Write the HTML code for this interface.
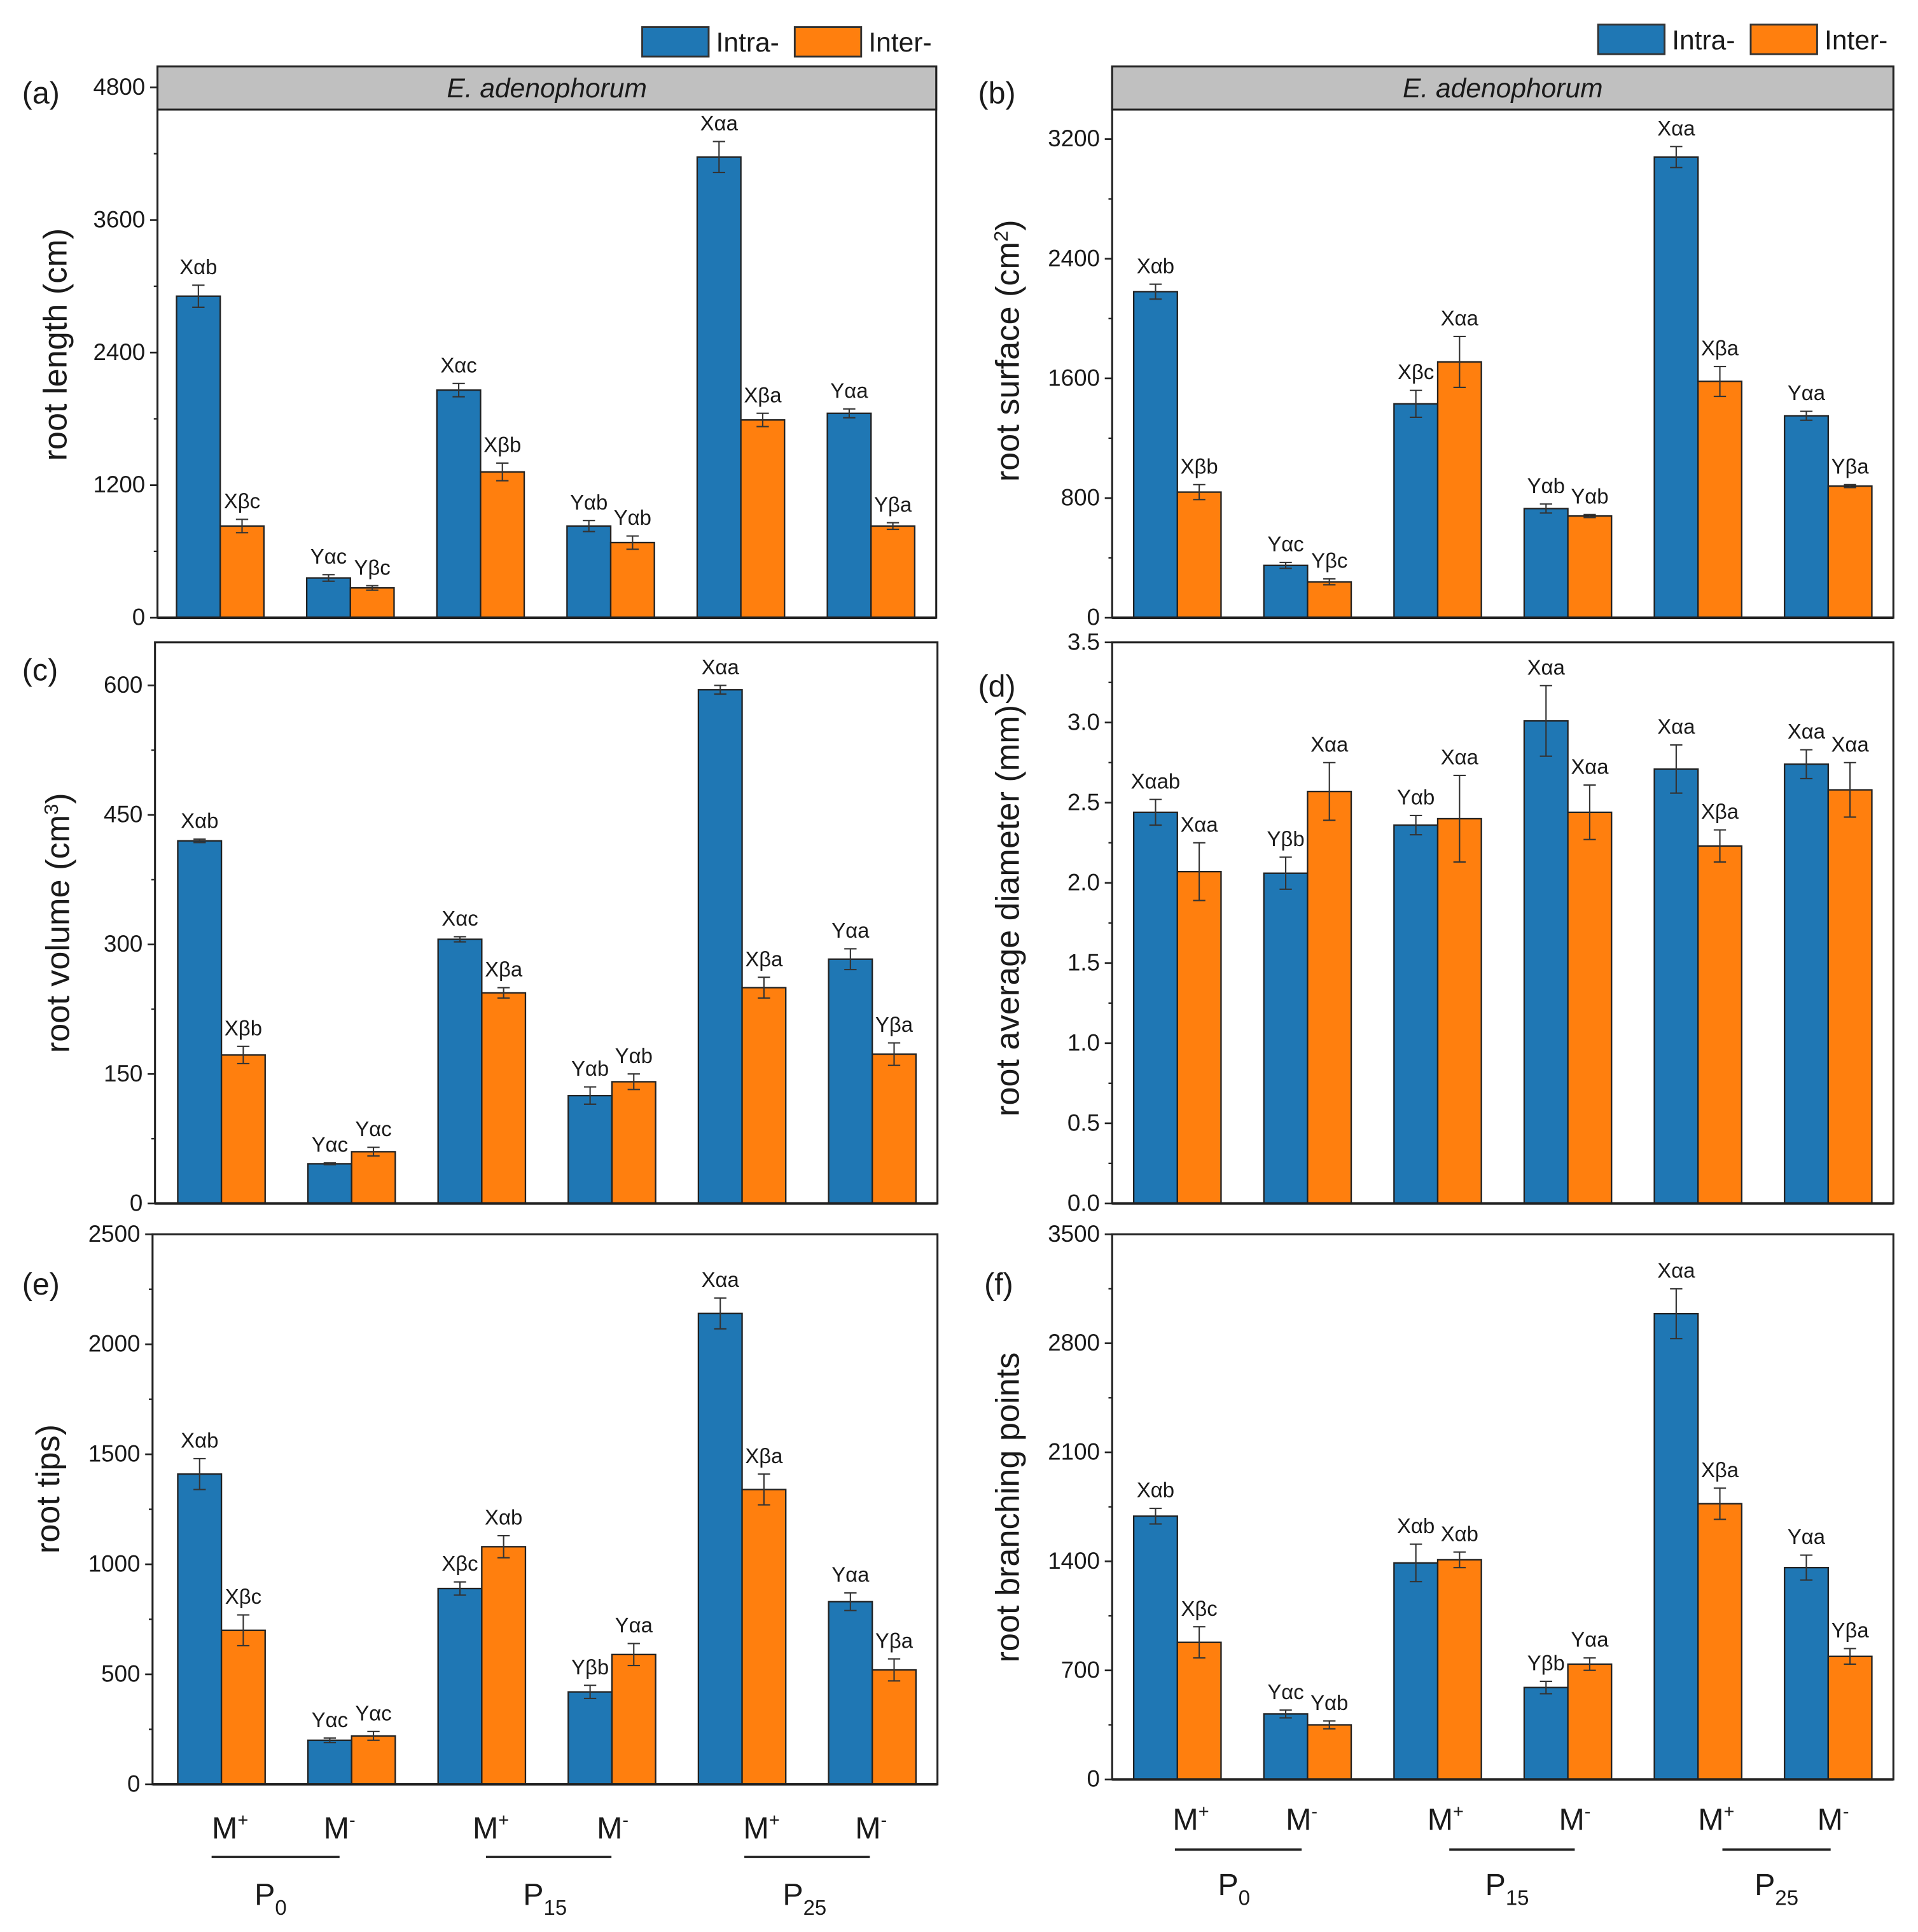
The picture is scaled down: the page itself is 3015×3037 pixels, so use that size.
<!DOCTYPE html>
<html><head><meta charset="utf-8"><style>
html,body{margin:0;padding:0;background:#fff;}
svg{display:block;}
text{font-family:"Liberation Sans",Arial,sans-serif;fill:#1a1a1a;}
</style></head><body>
<svg id="fig" width="3015" height="3037" viewBox="0 0 1559 1570" preserveAspectRatio="none" xmlns="http://www.w3.org/2000/svg"></svg>
<script>
// ---- data ----
const groups = ["P0 M+","P0 M-","P15 M+","P15 M-","P25 M+","P25 M-"];
const aIntra = [2910, 360, 2060, 830, 4170, 1850];
const aInter = [830, 270, 1320, 680, 1790, 830];
const aIntraErr = [100, 30, 60, 50, 140, 40];
const aInterErr = [60, 20, 80, 60, 60, 30];
const aLabels = ["Xαb","Xβc","Yαc","Yβc","Xαc","Xβb","Yαb","Yαb","Xαa","Xβa","Yαa","Yβa"];
const aTicks = [0,1200,2400,3600,4800];

const bIntra = [2180, 350, 1430, 730, 3080, 1350];
const bInter = [840, 240, 1710, 680, 1580, 880];
const bIntraErr = [50, 20, 90, 30, 70, 30];
const bInterErr = [50, 20, 170, 10, 100, 10];
const bLabels = ["Xαb","Xβb","Yαc","Yβc","Xβc","Xαa","Yαb","Yαb","Xαa","Xβa","Yαa","Yβa"];
const bTicks = [0,800,1600,2400,3200];

const cIntra = [420, 46, 306, 125, 595, 283];
const cInter = [172, 60, 244, 141, 250, 173];
const cIntraErr = [2, 1, 3, 10, 5, 12];
const cInterErr = [10, 5, 6, 9, 12, 13];
const cLabels = ["Xαb","Xβb","Yαc","Yαc","Xαc","Xβa","Yαb","Yαb","Xαa","Xβa","Yαa","Yβa"];
const cTicks = [0,150,300,450,600];

const dIntra = [2.44, 2.06, 2.36, 3.01, 2.71, 2.74];
const dInter = [2.07, 2.57, 2.40, 2.44, 2.23, 2.58];
const dIntraErr = [0.08, 0.10, 0.06, 0.22, 0.15, 0.09];
const dInterErr = [0.18, 0.18, 0.27, 0.17, 0.10, 0.17];
const dLabels = ["Xαab","Xαa","Yβb","Xαa","Yαb","Xαa","Xαa","Xαa","Xαa","Xβa","Xαa","Xαa"];
const dTicks = ["0.0","0.5","1.0","1.5","2.0","2.5","3.0","3.5"];

const eIntra = [1410, 200, 890, 420, 2140, 830];
const eInter = [700, 220, 1080, 590, 1340, 520];
const eIntraErr = [70, 10, 30, 30, 70, 40];
const eInterErr = [70, 20, 50, 50, 70, 50];
const eLabels = ["Xαb","Xβc","Yαc","Yαc","Xβc","Xαb","Yβb","Yαa","Xαa","Xβa","Yαa","Yβa"];
const eTicks = [0,500,1000,1500,2000,2500];

const fIntra = [1690, 420, 1390, 590, 2990, 1360];
const fInter = [880, 350, 1410, 740, 1770, 790];
const fIntraErr = [50, 25, 120, 40, 160, 80];
const fInterErr = [100, 25, 50, 40, 100, 50];
const fLabels = ["Xαb","Xβc","Yαc","Yαb","Xαb","Xαb","Yβb","Yαa","Xαa","Xβa","Yαa","Yβa"];
const fTicks = [0,700,1400,2100,2800,3500];

const BLUE="#1f77b4", ORANGE="#ff7f0e";
const svg=document.getElementById('fig');
const NS="http://www.w3.org/2000/svg";
function mk(tag,attrs,parent){const e=document.createElementNS(NS,tag);for(const k in attrs)e.setAttribute(k,attrs[k]);(parent||svg).appendChild(e);return e;}
function txt(s,x,y,size,anchor,parent,extra){const t=mk('text',Object.assign({x:x,y:y,'font-size':size,'text-anchor':anchor||'middle'},extra||{}),parent);t.textContent=s;return t;}

function panel(p){
  const g=mk('g',{});
  
  
  const x0=p.x0,x1=p.x1,yb=p.yb,yt=p.yt;
  const tickVals=p.ticks.map(Number);
  const vmax=tickVals[tickVals.length-1];
  const ysc=v=>yb-(v/vmax)*(yb-p.ymaxPx);
  const fr=mk('rect',{x:x0,y:yt,width:x1-x0,height:yb-yt,fill:'none',stroke:'#222','stroke-width':1.6},g);
  
  
  if(p.strip){
    const st=mk('rect',{x:x0,y:yt,width:x1-x0,height:35,fill:'#c0c0c0',stroke:'#222','stroke-width':1.6},g);
    
    
    const tt=txt('E. adenophorum',(x0+x1)/2,yt+25,22,'middle',g,{'font-style':'italic'});
    
    
  }
  const yax=mk('g',{},g);
  
  
  tickVals.forEach((v,i)=>{
    const y=ysc(v);
    mk('line',{x1:x0-6,x2:x0,y1:y,y2:y,stroke:'#222','stroke-width':1.4},yax);
    const t=txt(String(p.ticks[i]),x0-10,y+6,19,'end',yax);
    
    
    if(i<tickVals.length-1){const ym=ysc((v+tickVals[i+1])/2);mk('line',{x1:x0-3,x2:x0,y1:ym,y2:ym,stroke:'#222','stroke-width':1.2},yax);}
  });
  const at=mk('text',{x:0,y:0,'font-size':27,'text-anchor':'middle',transform:`translate(${p.titleX},${p.titleY}) rotate(-90)`},g);
  at.innerHTML=p.title;
  
  
  const pl=txt('('+p.id+')',p.letterX,p.letterY,25,'start',g);
  
  
  const bw=35.5, step=(p.c5-p.c0)/5;
  p.intra.forEach((v,i)=>{
    const c=p.c0+i*step;
    [[v,p.intraErr[i],BLUE,c-bw,p.labels[2*i],'intra'],[p.inter[i],p.interErr[i],ORANGE,c,p.labels[2*i+1],'inter']].forEach(([val,err,col,bx,lab,nm])=>{
      const y=ysc(val);
      const r=mk('rect',{x:bx,y:y,width:bw,height:yb-y,fill:col,stroke:'#222','stroke-width':1.2},g);
      
      
      const cx=bx+bw/2, ye1=ysc(val+err), ye2=ysc(val-err);
      const eb=mk('path',{d:`M${cx},${ye1}V${ye2}M${cx-5},${ye1}H${cx+5}M${cx-5},${ye2}H${cx+5}`,stroke:'#333','stroke-width':1.1,fill:'none'},g);
      
      
      const lt=txt(lab,cx,ye1-9,17,'middle',g);
      
      
    });
  });
  mk('line',{x1:x0,x2:x1,y1:yb,y2:yb,stroke:'#222','stroke-width':2},g);
  if(p.legend){
    const lg=mk('g',{},g);
    
    
    const L=p.legend;
    mk('rect',{x:L.x,y:L.y,width:54,height:24,fill:BLUE,stroke:'#333','stroke-width':1.5},lg);
    txt('Intra-',L.x+60,L.y+20,22,'start',lg);
    mk('rect',{x:L.x+124,y:L.y,width:54,height:24,fill:ORANGE,stroke:'#333','stroke-width':1.5},lg);
    txt('Inter-',L.x+184,L.y+20,22,'start',lg);
  }
  if(p.xcat){
    const xc=mk('g',{},g);
    
    
    const X=p.xcat;
    X.m.forEach((mx,i)=>{
      const t=mk('text',{x:mx,y:X.my,'font-size':25,'text-anchor':'middle'},xc);
      t.innerHTML='M<tspan dy="-10" font-size="15">'+(i%2?'-':'+')+'</tspan>';
    });
    ['0','15','25'].forEach((s,i)=>{
      mk('line',{x1:X.lines[i][0],x2:X.lines[i][1],y1:X.ly,y2:X.ly,stroke:'#222','stroke-width':2},xc);
      const t=mk('text',{x:X.p[i],y:X.py,'font-size':25,'text-anchor':'middle'},xc);
      t.innerHTML='P<tspan dy="8" font-size="17">'+s+'</tspan>';
    });
  }
}
panel({id:'a',x0:128,x1:761,yt:54,yb:502,ymaxPx:71,ticks:aTicks,strip:true,intra:aIntra,inter:aInter,intraErr:aIntraErr,interErr:aInterErr,labels:aLabels,c0:179,c5:708,title:'root length (cm)',titleX:54,titleY:280,letterX:18,letterY:84,legend:{x:522,y:22}});
panel({id:'b',x0:904,x1:1539,yt:54,yb:502,ymaxPx:113,ticks:bTicks,strip:true,intra:bIntra,inter:bInter,intraErr:bIntraErr,interErr:bInterErr,labels:bLabels,c0:957,c5:1486,title:'root surface (cm<tspan dy="-9" font-size="16">2</tspan><tspan dy="9">)</tspan>',titleX:828,titleY:285,letterX:795,letterY:84,legend:{x:1299,y:20}});
panel({id:'c',x0:126,x1:762,yt:522,yb:978,ymaxPx:557,ticks:cTicks,intra:cIntra,inter:cInter,intraErr:cIntraErr,interErr:cInterErr,labels:cLabels,c0:180,c5:709,title:'root volume (cm<tspan dy="-9" font-size="16">3</tspan><tspan dy="9">)</tspan>',titleX:56,titleY:750,letterX:18,letterY:553});
panel({id:'d',x0:904,x1:1539,yt:522,yb:978,ymaxPx:522,ticks:dTicks,intra:dIntra,inter:dInter,intraErr:dIntraErr,interErr:dInterErr,labels:dLabels,c0:957,c5:1486,title:'root average diameter (mm)',titleX:828,titleY:740,letterX:795,letterY:566});
panel({id:'e',x0:124,x1:762,yt:1003,yb:1450,ymaxPx:1003,ticks:eTicks,intra:eIntra,inter:eInter,intraErr:eIntraErr,interErr:eInterErr,labels:eLabels,c0:180,c5:709,title:'root tips)',titleX:48,titleY:1210,letterX:18,letterY:1052,xcat:{m:[187,276,399,498,619,708],my:1494,lines:[[172,276],[395,497],[605,707]],ly:1509,p:[220,443,654],py:1548}});
panel({id:'f',x0:904,x1:1539,yt:1003,yb:1446,ymaxPx:1003,ticks:fTicks,intra:fIntra,inter:fInter,intraErr:fIntraErr,interErr:fInterErr,labels:fLabels,c0:957,c5:1486,title:'root branching points',titleX:828,titleY:1225,letterX:800,letterY:1052,xcat:{m:[968,1058,1175,1280,1395,1490],my:1487,lines:[[955,1058],[1178,1280],[1400,1488]],ly:1503,p:[1003,1225,1444],py:1540}});
</script>
</body></html>
